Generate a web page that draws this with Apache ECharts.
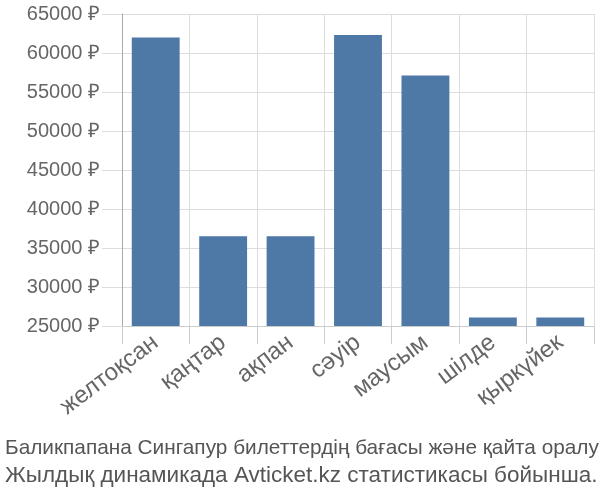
<!DOCTYPE html>
<html><head><meta charset="utf-8">
<script src="https://cdn.jsdelivr.net/npm/echarts@6/dist/echarts.min.js"></script>
<style>html,body{margin:0;padding:0;background:#fff}#c{width:600px;height:500px}</style>
</head><body><div id="c"></div>
<script>
const categories = ['желтоқсан','қаңтар','ақпан','сәуір','маусым','шілде','қыркүйек'];
const prices = [62000, 36500, 36500, 62300, 57100, 26100, 26100];
const yMin = 25000, yMax = 65000, yStep = 5000;
const titleLines = ['Баликпапана Сингапур билеттердің бағасы және қайта оралу','Жылдық динамикада Avticket.kz статистикасы бойынша.'];

const chart = echarts.init(document.getElementById('c'));
chart.setOption({
  animation: false,
  textStyle: {fontFamily: 'Liberation Sans'},
  title: {
    text: '{a|' + titleLines[0] + '}\n{b|' + titleLines[1] + '}',
    left: 0, top: 430,
    textStyle: {
      fontFamily: 'Liberation Sans', fontWeight: 'normal', color: '#555',
      rich: {
        a: {fontFamily: 'Liberation Sans', fontSize: 20.8, color: '#555', lineHeight: 27},
        b: {fontFamily: 'Liberation Sans', fontSize: 22.5, color: '#555', lineHeight: 27}
      }
    }
  },
  grid: {left: 122, right: 6, top: 14, bottom: 174, containLabel: false},
  xAxis: {
    type: 'category', data: categories,
    axisLine: {show: true, lineStyle: {color: '#ccc'}},
    axisTick: {show: true, length: 18, lineStyle: {color: '#ccc'}},
    splitLine: {show: true, lineStyle: {color: '#ddd'}},
    axisLabel: {rotate: 37, fontSize: 24, color: '#666', margin: 14, interval: 0}
  },
  yAxis: {
    type: 'value', min: yMin, max: yMax, interval: yStep,
    axisLine: {show: true, lineStyle: {color: '#aaa'}},
    axisTick: {show: true, length: 20, lineStyle: {color: '#ddd'}},
    splitLine: {show: true, lineStyle: {color: '#ddd'}},
    axisLabel: {formatter: function (v) { return v + ' ₽'; }, fontSize: 20, color: '#666', margin: 22}
  },
  series: [{
    type: 'bar', data: prices, barCategoryGap: '29%',
    itemStyle: {color: '#4e79a7'}
  }]
});
</script></body></html>
